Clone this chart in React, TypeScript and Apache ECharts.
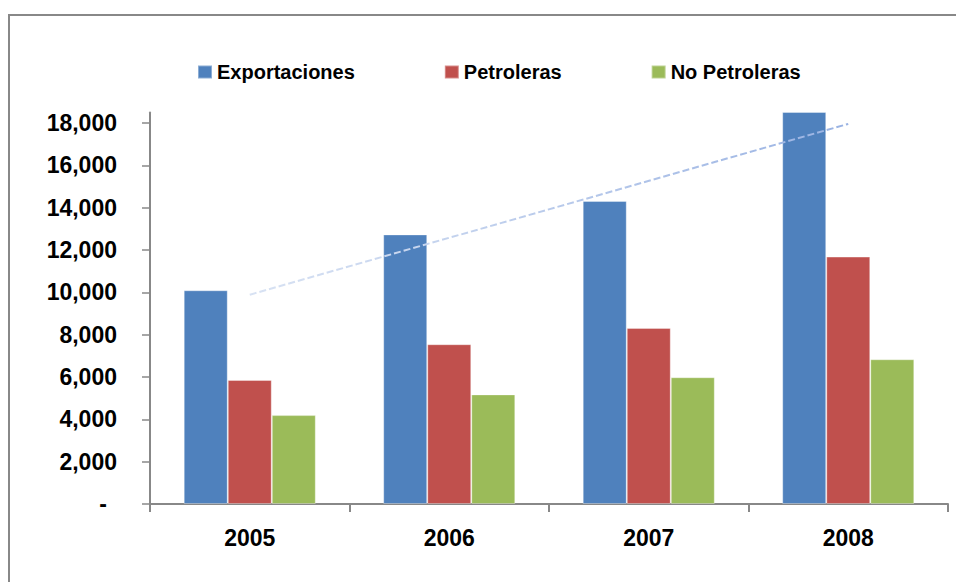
import React, { useEffect, useRef } from "react";
import * as echarts from "echarts";

const categories = ["2005", "2006", "2007", "2008"];
const exportaciones = [10100, 12740, 14320, 18530];
const petroleras = [5860, 7550, 8320, 11690];
const noPetroleras = [4200, 5180, 5990, 6840];
// Trendline endpoints (at 2005 and 2008 centres)
const trendline = [9890, null, null, 17960];
const yTicks = [0, 2000, 4000, 6000, 8000, 10000, 12000, 14000, 16000, 18000];

const FONT = "Liberation Sans, Arial, sans-serif";

export default function App() {
  const ref = useRef<HTMLDivElement>(null);
  useEffect(() => {
    if (!ref.current) return;
    const chart = echarts.init(ref.current, null, { renderer: "svg" });
    const barBorder = { borderColor: "rgba(255,255,255,0.35)", borderWidth: 1 };
    chart.setOption({
      animation: false,
      backgroundColor: "#ffffff",
      textStyle: { fontFamily: FONT },
      graphic: [
        {
          type: "rect",
          shape: { x: 9, y: 15, width: 1000, height: 1000 },
          style: { fill: "none", stroke: "#888888", lineWidth: 2 },
          silent: true,
          z: -10,
        },
      ],
      legend: {
        data: ["Exportaciones", "Petroleras", "No Petroleras"],
        left: 192,
        top: 57,
        icon: "rect",
        itemWidth: 14,
        itemHeight: 13,
        itemGap: 89,
        textStyle: { fontSize: 20, fontWeight: "bold", color: "#000", fontFamily: FONT },
      },
      grid: { left: 150, right: 8, top: 112.5, bottom: 78, containLabel: false },
      xAxis: {
        type: "category",
        data: categories,
        axisLine: { lineStyle: { color: "#888888", width: 2 } },
        axisTick: { show: true, alignWithLabel: false, length: 8, lineStyle: { color: "#888888", width: 2 } },
        axisLabel: { fontSize: 23, fontWeight: "bold", color: "#000", margin: 22, fontFamily: FONT },
        splitLine: { show: false },
      },
      yAxis: {
        type: "value",
        min: 0,
        max: 18500,
        interval: 2000,
        axisLine: { show: true, lineStyle: { color: "#888888", width: 2 } },
        axisTick: { show: true, length: 8, customValues: yTicks, lineStyle: { color: "#888888", width: 1.5 } },
        splitLine: { show: false },
        axisLabel: {
          customValues: yTicks,
          margin: 33,
          fontSize: 23,
          fontWeight: "bold",
          color: "#000",
          fontFamily: FONT,
          formatter: (v: number) => (v === 0 ? "{d|-}" : v.toLocaleString("en-US")),
          rich: {
            d: { fontSize: 23, fontWeight: "bold", color: "#000", padding: [0, 10, 0, 0], fontFamily: FONT },
          },
        },
      },
      series: [
        {
          name: "Exportaciones",
          type: "bar",
          data: exportaciones,
          barGap: "0%",
          barCategoryGap: "33.8%",
          itemStyle: { color: "#4f81bd", ...barBorder },
        },
        {
          name: "Petroleras",
          type: "bar",
          data: petroleras,
          itemStyle: { color: "#c0504d", ...barBorder },
        },
        {
          name: "No Petroleras",
          type: "bar",
          data: noPetroleras,
          itemStyle: { color: "#9bbb59", ...barBorder },
        },
        {
          name: "Tendencia",
          type: "line",
          data: trendline,
          connectNulls: true,
          symbol: "none",
          z: 5,
          lineStyle: {
            width: 2,
            type: [7, 3],
            color: {
              type: "linear",
              x: 0,
              y: 0,
              x2: 1,
              y2: 0,
              colorStops: [
                { offset: 0, color: "#d8e2f3" },
                { offset: 1, color: "#9ab3e3" },
              ],
            },
          },
        },
      ],
    });
    return () => chart.dispose();
  }, []);
  return (
    <div
      ref={ref}
      style={{ position: "absolute", left: 0, top: 0, width: 956, height: 582 }}
    />
  );
}
